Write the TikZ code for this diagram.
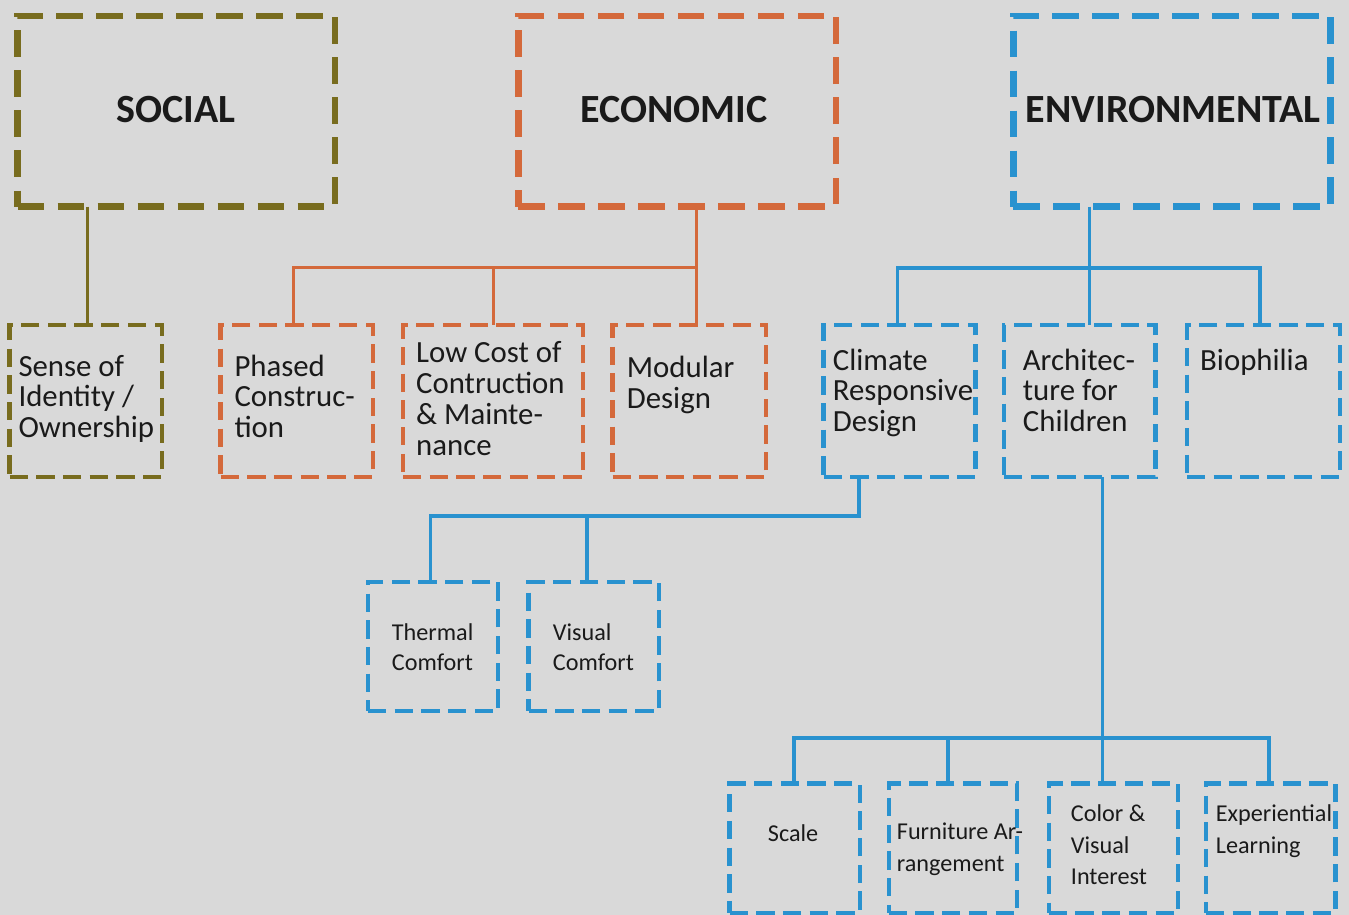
\documentclass[tikz,border=0pt]{standalone}
\usepackage{fontspec}
\setmainfont{Carlito}
\usetikzlibrary{fit}
\definecolor{bg}{HTML}{D9D9D9}
\definecolor{oliveC}{HTML}{786C1E}
\definecolor{orangeC}{HTML}{D4693B}
\definecolor{blueC}{HTML}{2992CF}
\definecolor{ink}{HTML}{1A1A1A}
\begin{document}
\begin{tikzpicture}[x=1pt,y=-1pt,
  headbox/.style={draw, rectangle, line width=6.5pt, dash pattern=on 26.7pt off 13.3pt, inner sep=0pt, outer sep=0pt},
  subbox/.style={draw, rectangle, line width=4.3pt, dash pattern=on 18.3pt off 8.4pt, inner sep=0pt, outer sep=0pt},
  link/.style={line width=3.5pt},
  headtxt/.style={font=\fontsize{40}{48}\selectfont\bfseries, text=ink, anchor=base, inner sep=0pt},
  midtxt/.style={font=\fontsize{30.8}{30.8}\selectfont, text=ink, anchor=base west, align=left, inner sep=0pt},
  smalltxt/.style={font=\fontsize{24.2}{31.5}\selectfont, text=ink, anchor=base west, align=left, inner sep=0pt},
  comftxt/.style={font=\fontsize{24.2}{30}\selectfont, text=ink, anchor=base west, align=left, inner sep=0pt}]
\useasboundingbox (0,0) rectangle (1349,915);
\fill[bg] (0,0) rectangle (1349,915);

% ---- top headings
\node[headbox, oliveC, fit={(17.5,16) (335,206.5)}] (social) {};
\node[headbox, orangeC, fit={(518.3,16) (836,206.5)}] (econ) {};
\node[headbox, blueC, fit={(1013.3,16) (1330.7,206.5)}] (env) {};
\node[headtxt] (socialT) at (176,122.5) {SOCIAL};
\node[headtxt] (econT) at (674,122.5) {ECONOMIC};
\node[headtxt] (envT) at (1173,122.5) {ENVIRONMENTAL};

% ---- second row
\node[subbox, oliveC, fit={(9.5,325) (162,477)}] (sense) {};
\node[subbox, orangeC, fit={(220.5,325) (373,477)}] (phased) {};
\node[subbox, orangeC, fit={(403,325) (583,477)}] (lowcost) {};
\node[subbox, orangeC, fit={(612.5,325) (766,477)}] (modular) {};
\node[subbox, blueC, fit={(823.5,325) (975.5,477)}] (climate) {};
\node[subbox, blueC, fit={(1003.8,325) (1155.5,477)}] (arch) {};
\node[subbox, blueC, fit={(1187,325) (1339.8,477)}] (bio) {};

% (anchor base west = baseline of the last line)
\node[midtxt] (senseT) at (18.3,437.6) {Sense of\\Identity /\\Ownership};
\node[midtxt] (phasedT) at (234.3,437.6) {Phased\\Construc-\\tion};
\node[midtxt] (lowcostT) at (416,455.1) {Low Cost of\\Contruction\\\& Mainte-\\nance};
\node[midtxt] (modularT) at (626.7,408.1) {Modular\\Design};
\node[midtxt] (climateT) at (832.7,431.6) {Climate\\Responsive\\Design};
\node[midtxt] (archT) at (1022.7,431.6) {Architec-\\ture for\\Children};
\node[midtxt] (bioT) at (1200,370) {Biophilia};

% ---- comfort row
\node[subbox, blueC, fit={(368,582) (498,711)}] (thermal) {};
\node[subbox, blueC, fit={(528.5,582) (659,711)}] (visual) {};
\node[comftxt] (thermalT) at (391.7,670) {Thermal\\Comfort};
\node[comftxt] (visualT) at (552.7,670) {Visual\\Comfort};

% ---- bottom row
\node[subbox, blueC, fit={(729.5,783.5) (859.7,913)}] (scl) {};
\node[subbox, blueC, fit={(888.7,783.5) (1017,913)}] (furn) {};
\node[subbox, blueC, fit={(1048.7,783.5) (1178,913)}] (colr) {};
\node[subbox, blueC, fit={(1206,783.5) (1335.5,913)}] (expl) {};
\node[smalltxt] (sclT) at (767.7,841.7) {Scale};
\node[smalltxt] (furnT) at (896.7,871.3) {Furniture Ar-\\rangement};
\node[smalltxt] (colrT) at (1070.7,884.7) {Color \&\\Visual\\Interest};
\node[smalltxt] (explT) at (1215.7,853.2) {Experiential\\Learning};

% ---- connectors: social
\coordinate (sdrop) at (87.3,260);
\draw[link, oliveC] (sdrop |- social.south) -- (sdrop |- sense.north);

% ---- connectors: economic
\coordinate (eb) at (696.7,267.7);
\coordinate (pd) at (293.3,267.7);
\coordinate (ld) at (493.3,267.7);
\draw[link, orangeC] (eb |- econ.south) -- (eb |- modular.north);
\draw[link, orangeC] (pd |- phased.north) -- (pd) -- (eb);
\draw[link, orangeC] (ld) -- (ld |- lowcost.north);

% ---- connectors: environmental
\coordinate (vb) at (1089.5,268);
\coordinate (cd) at (897.3,268);
\coordinate (bd) at (1260,268);
\draw[link, blueC] (vb |- env.south) -- (vb |- arch.north);
\draw[link, blueC] (cd |- climate.north) -- (cd) -- (bd) -- (bd |- bio.north);

% ---- connectors: climate responsive design
\coordinate (cb) at (859,516);
\coordinate (td) at (430.5,516);
\coordinate (vd) at (587,516);
\draw[link, blueC] (cb |- climate.south) -- (cb) -- (td) -- (td |- thermal.north);
\draw[link, blueC] (vd) -- (vd |- visual.north);

% ---- connectors: architecture for children
\coordinate (ab) at (1102.7,738);
\coordinate (sdr) at (794,738);
\coordinate (fd) at (948,738);
\coordinate (xd) at (1269,738);
\draw[link, blueC] (ab |- arch.south) -- (ab |- colr.north);
\draw[link, blueC] (sdr |- scl.north) -- (sdr) -- (xd) -- (xd |- expl.north);
\draw[link, blueC] (fd) -- (fd |- furn.north);
\end{tikzpicture}
\end{document}
